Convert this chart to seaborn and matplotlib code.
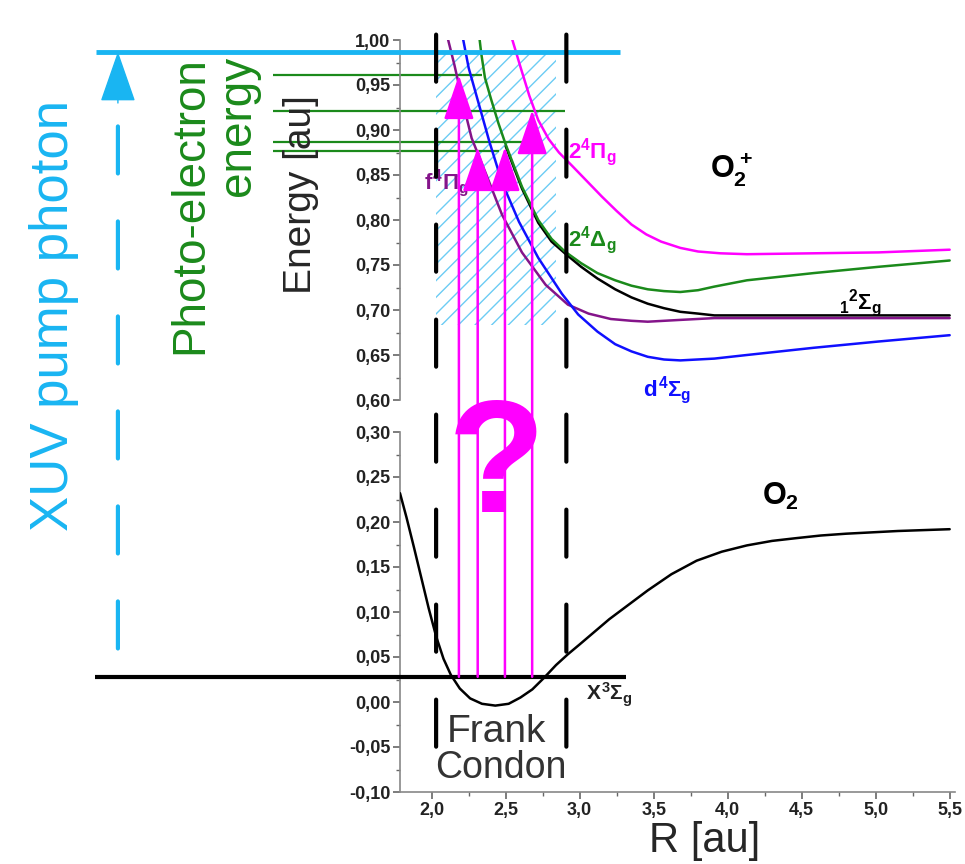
import numpy as np
import pandas as pd
import seaborn as sns
import matplotlib.pyplot as plt
from matplotlib.patches import ConnectionPatch
from matplotlib.ticker import MultipleLocator, FuncFormatter

# ---- potential curves (R and energy in au) ----
# O2+ states (upper panel)
pi2_R = [2.54, 2.60, 2.66, 2.72, 2.79, 2.86, 2.95, 3.05, 3.15, 3.25, 3.35, 3.45, 3.55, 3.68, 3.80, 3.95,
         4.13, 4.58, 5.02, 5.50]
pi2_E = [1.003, 0.970, 0.938, 0.911, 0.890, 0.875, 0.860, 0.843, 0.826, 0.810, 0.795, 0.784, 0.776, 0.769,
         0.765, 0.763, 0.762, 0.763, 0.764, 0.767]

delta_R = [2.32, 2.335, 2.36, 2.40, 2.45, 2.50, 2.61, 2.72, 2.81, 2.90, 3.01, 3.12, 3.24, 3.35, 3.46, 3.57,
           3.68, 3.80, 3.91, 4.13, 4.58, 5.02, 5.50]
delta_E = [1.006, 0.985, 0.958, 0.935, 0.908, 0.884, 0.837, 0.800, 0.779, 0.765, 0.752, 0.741, 0.733, 0.727,
           0.723, 0.721, 0.720, 0.722, 0.726, 0.733, 0.741, 0.748, 0.755]

sig12_R = [2.50, 2.61, 2.72, 2.81, 2.90, 3.01, 3.12, 3.24, 3.35, 3.46, 3.57, 3.68, 3.80, 3.91, 4.20, 5.50]
sig12_E = [0.882, 0.835, 0.797, 0.776, 0.763, 0.748, 0.735, 0.723, 0.714, 0.707, 0.702, 0.698, 0.696, 0.694,
           0.694, 0.694]

f4pi_R = [2.107, 2.154, 2.21, 2.27, 2.37, 2.475, 2.61, 2.77, 2.92, 3.06, 3.21, 3.35, 3.46, 3.57, 3.68, 3.91,
          4.50, 5.50]
f4pi_E = [1.003, 0.972, 0.931, 0.891, 0.850, 0.806, 0.764, 0.728, 0.706, 0.696, 0.690, 0.688, 0.687, 0.688,
          0.689, 0.691, 0.691, 0.691]

d4sig_R = [2.21, 2.25, 2.32, 2.39, 2.475, 2.59, 2.72, 2.88, 2.99, 3.12, 3.24, 3.35, 3.46, 3.57, 3.68, 3.91,
           4.13, 4.58, 5.02, 5.50]
d4sig_E = [1.003, 0.969, 0.928, 0.887, 0.842, 0.798, 0.758, 0.718, 0.695, 0.676, 0.662, 0.654, 0.648, 0.645,
           0.644, 0.646, 0.650, 0.658, 0.665, 0.672]

# O2 ground state (lower panel)
x3sig_R = [1.786, 1.83, 1.88, 1.93, 1.98, 2.03, 2.08, 2.13, 2.19, 2.26, 2.34, 2.43, 2.52, 2.60, 2.68, 2.76,
           2.84, 2.92, 3.00, 3.10, 3.20, 3.33, 3.46, 3.62, 3.79, 3.96, 4.13, 4.30, 4.46, 4.63, 4.80, 5.15, 5.50]
x3sig_E = [0.232, 0.205, 0.172, 0.138, 0.104, 0.073, 0.048, 0.030, 0.015, 0.004, -0.002, -0.004, -0.002,
           0.005, 0.014, 0.027, 0.041, 0.053, 0.064, 0.078, 0.092, 0.108, 0.124, 0.142, 0.157, 0.167, 0.174,
           0.179, 0.182, 0.185, 0.187, 0.190, 0.192]

# photo-electron energy markers
pe_levels = [0.961, 0.921, 0.887, 0.877]
pe_ends = [2.34, 2.90, 2.64, 2.455]
pe_start = 0.93

# vertical transitions from the ground level
arrow_R = [2.184, 2.311, 2.495, 2.679]
arrow_tip = [0.961, 0.881, 0.881, 0.922]
ground_level = 0.028
ground_span = [-0.276, 3.31]

# XUV photon
photon_E = 0.987
photon_span = [-0.27, 3.27]
photon_R = -0.12

# Franck-Condon window
fc_R = [2.03, 2.91]
fc_hatch_R = [2.03, 2.84]
fc_hatch_E = [0.683, 0.987]

MAGENTA = '#ff00ff'
GREEN = '#1b8a1b'
BLUE = '#1010ff'
PURPLE = '#84148a'
SKY = '#19b5f2'
HATCH = '#6cccf4'
TICK = '#222222'

sns.set_style('ticks')
plt.rcParams['font.family'] = ['Liberation Sans', 'DejaVu Sans']
plt.rcParams['mathtext.fontset'] = 'custom'
plt.rcParams['mathtext.rm'] = 'Liberation Sans:bold'
plt.rcParams['mathtext.it'] = 'Liberation Sans:bold'
plt.rcParams['mathtext.bf'] = 'Liberation Sans:bold'
plt.rcParams['hatch.linewidth'] = 1.0

W, H = 965, 864
fig = plt.figure(figsize=(W / 100, H / 100), dpi=100)


def box(x0, y0, x1, y1):
    return [x0 / W, 1 - y1 / H, (x1 - x0) / W, (y1 - y0) / H]


ax_top = fig.add_axes(box(400, 40, 955, 400))
ax_bot = fig.add_axes(box(400, 432, 955, 792))
for ax in (ax_top, ax_bot):
    ax.set_xlim(1.786, 5.536)
    ax.patch.set_alpha(0)

ax_top.set_ylim(0.60, 1.00)
ax_bot.set_ylim(-0.10, 0.30)

# ion states
ion = pd.concat([
    pd.DataFrame({'R': sig12_R, 'E': sig12_E, 'state': '1'}),
    pd.DataFrame({'R': f4pi_R, 'E': f4pi_E, 'state': 'f'}),
    pd.DataFrame({'R': d4sig_R, 'E': d4sig_E, 'state': 'd'}),
    pd.DataFrame({'R': delta_R, 'E': delta_E, 'state': 'delta'}),
    pd.DataFrame({'R': pi2_R, 'E': pi2_E, 'state': 'pi'}),
])
palette = {'1': 'black', 'f': PURPLE, 'd': BLUE, 'delta': GREEN, 'pi': MAGENTA}
sns.lineplot(data=ion, x='R', y='E', hue='state', palette=palette, estimator=None, sort=False,
             lw=1.8, legend=False, ax=ax_top, zorder=3)

sns.lineplot(x=x3sig_R, y=x3sig_E, color='black', lw=1.8, estimator=None, sort=False, ax=ax_bot, zorder=3)

# Franck-Condon hatched window
ax_top.fill_between(fc_hatch_R, fc_hatch_E[0], fc_hatch_E[1], facecolor='none', edgecolor=HATCH,
                    hatch='//', linewidth=0, zorder=1)

# photo-electron energies and photon energy
ax_top.hlines(pe_levels, pe_start, pe_ends, color=GREEN, lw=1.6, clip_on=False, zorder=2)
ax_top.hlines(photon_E, photon_span[0], photon_span[1], color=SKY, lw=3.5, clip_on=False, zorder=4)
ax_bot.hlines(ground_level, ground_span[0], ground_span[1], color='black', lw=3, clip_on=False, zorder=4)

# XUV arrow (dashed shaft + solid head)
fig.add_artist(ConnectionPatch(xyA=(photon_R, 0.904), coordsA=ax_top.transData,
                               xyB=(photon_R, 0.040), coordsB=ax_bot.transData,
                               color=SKY, lw=3, linestyle=(0, (11.3, 11.5))))
ax_top.annotate('', xy=(photon_R, photon_E), xytext=(photon_R, 0.930), annotation_clip=False,
                arrowprops=dict(arrowstyle='-|>,head_length=3.3,head_width=1.15', mutation_scale=10,
                                color=SKY, lw=1, shrinkA=0, shrinkB=0))

# Franck-Condon dashed borders
for r in fc_R:
    fig.add_artist(ConnectionPatch(xyA=(r, 1.006), coordsA=ax_top.transData,
                                   xyB=(r, -0.050), coordsB=ax_bot.transData,
                                   color='black', lw=3, linestyle=(0, (11.3, 11.5)), zorder=6))

# vertical transitions
for r, tip in zip(arrow_R, arrow_tip):
    fig.add_artist(ConnectionPatch(xyA=(r, ground_level), coordsA=ax_bot.transData,
                                   xyB=(r, tip), coordsB=ax_top.transData,
                                   arrowstyle='-|>,head_length=2.8,head_width=0.95', mutation_scale=10,
                                   color=MAGENTA, lw=1.8, zorder=5))

# state labels
ax_top.text(2.92, 0.876, r'$2^4\Pi_g$', color=MAGENTA, fontsize=16, va='center')
ax_top.text(2.92, 0.778, r'$2^4\Delta_g$', color=GREEN, fontsize=16, va='center')
ax_top.text(4.75, 0.708, r'${}_1{}^2\Sigma_g$', color='black', fontsize=16, va='center')
ax_top.text(3.43, 0.611, r'$d^4\Sigma_g$', color=BLUE, fontsize=16, va='center')
ax_top.text(1.95, 0.841, r'$f^4\Pi_g$', color=PURPLE, fontsize=16, va='center')
ax_top.text(3.88, 0.856, r'$O_2^+$', color='black', fontsize=22, va='center')
ax_bot.text(4.23, 0.228, r'$O_2$', color='black', fontsize=22, va='center')
ax_bot.text(3.04, 0.008, r'$X^3\Sigma_g$', color='#222222', fontsize=15, va='center', clip_on=False)

ax_bot.text(2.435, 0.211, '?', color=MAGENTA, fontsize=115, fontweight='bold', ha='center', va='baseline',
            clip_on=False, zorder=2)
ax_bot.text(2.44, -0.044, 'Frank', color='#333333', fontsize=28, ha='center', va='baseline')
ax_bot.text(2.47, -0.085, 'Condon', color='#333333', fontsize=27, ha='center', va='baseline')

# side labels
ax_top.text(-0.55, 0.694, 'XUV pump photon', color=SKY, fontsize=38, rotation=90,
            ha='center', va='center', clip_on=False)
ax_top.text(0.53, 0.982, 'Photo-electron\nenergy', color=GREEN, fontsize=33, rotation=90,
            ha='center', va='top', multialignment='right', linespacing=1.1, clip_on=False)
ax_top.text(-0.179, 0.57, 'Energy [au]', transform=ax_top.transAxes, fontsize=28, rotation=90,
            ha='center', va='center')
ax_bot.text(0.548, -0.136, 'R [au]', transform=ax_bot.transAxes, fontsize=30, ha='center', va='center')

# axes styling
comma2 = FuncFormatter(lambda v, p: f'{v + 0.0:.2f}'.replace('.', ',').replace('-0,00', '0,00'))
comma1 = FuncFormatter(lambda v, p: f'{v:.1f}'.replace('.', ','))
for ax in (ax_top, ax_bot):
    ax.yaxis.set_major_locator(MultipleLocator(0.05))
    ax.yaxis.set_minor_locator(MultipleLocator(0.025))
    ax.yaxis.set_major_formatter(comma2)
    ax.tick_params(axis='both', which='major', length=5, width=1.2, color='#666666',
                   labelsize=13, labelcolor=TICK, pad=2)
    ax.tick_params(axis='both', which='minor', length=3, width=1.0, color='#666666')
    ax.spines['left'].set_color('#888888')
    ax.spines['left'].set_linewidth(1.2)
    ax.set_xlabel('')
    ax.set_ylabel('')

ax_bot.xaxis.set_major_locator(MultipleLocator(0.5))
ax_bot.xaxis.set_minor_locator(MultipleLocator(0.25))
ax_bot.xaxis.set_major_formatter(comma1)
ax_bot.spines['bottom'].set_color('#888888')
ax_bot.spines['bottom'].set_linewidth(1.2)
sns.despine(ax=ax_bot)
sns.despine(ax=ax_top, bottom=True)
ax_top.tick_params(axis='x', which='both', bottom=False, labelbottom=False)

for ax in (ax_top, ax_bot):
    plt.setp(ax.get_yticklabels(), fontweight='bold')
plt.setp(ax_bot.get_xticklabels(), fontweight='bold')

fig.savefig('out.png', dpi=100)
